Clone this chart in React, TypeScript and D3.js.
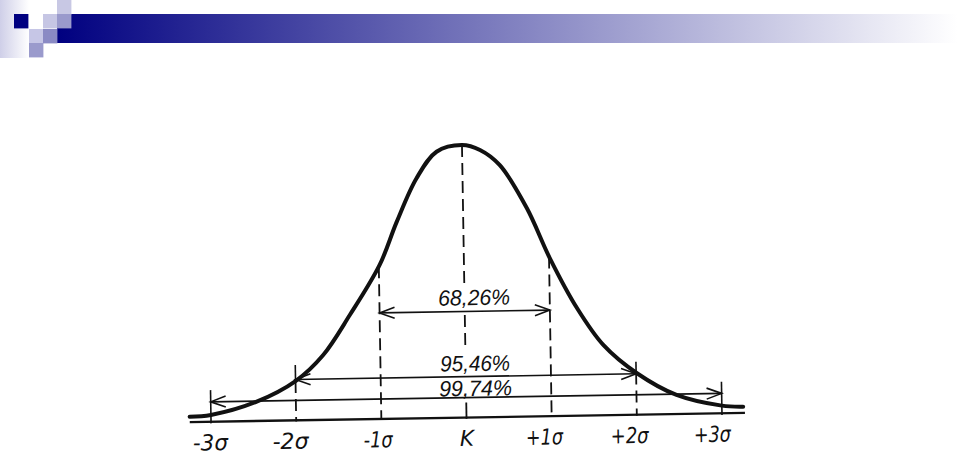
import React from "react";
import * as d3 from "d3";

// Positions along the axis, in units of sigma
const sigmaTicks = [-3, -2, -1, 0, 1, 2, 3];
const tickLabels = ["-3σ", "-2σ", "-1σ", "K", "+1σ", "+2σ", "+3σ"];

// Curve: sigma position and relative height (peak = 1)
const curveSigma = [-3.25, -3.0, -2.46, -2.0, -1.67, -1.35, -0.99, -0.78, -0.54, -0.3, 0, 0.21, 0.44, 0.75, 1.01, 1.32, 1.62, 2.01, 2.47, 3.0, 3.25];
const curveHeight = [0.02, 0.025, 0.071, 0.144, 0.238, 0.383, 0.565, 0.723, 0.881, 0.977, 1.0, 0.981, 0.924, 0.764, 0.579, 0.394, 0.258, 0.152, 0.07, 0.028, 0.023];

// Interval arrows
const intervalFrom = [-1, -2, -3];
const intervalTo = [1, 2, 3];
const intervalLabels = ["68,26%", "95,46%", "99,74%"];
const intervalLevels = [0.389, 0.15, 0.073];

// Heights where the short solid ticks above the curve begin
const tickTops = [0.116, 0.203, null, null, null, 0.194, 0.116];

export default function App() {
  const W = 960, H = 456;
  const baseY = 417.5;
  const x = d3.scaleLinear().domain([-3, 3]).range([211, 722]);
  const y = d3.scaleLinear().domain([0, 1]).range([baseY, baseY - 272.5]);
  const hAt = d3.scaleLinear().domain(curveSigma).range(curveHeight);
  const pts = curveSigma.map((s, i) => [s, curveHeight[i]] as [number, number]);
  const line = d3
    .line<[number, number]>()
    .x((d) => x(d[0]))
    .y((d) => y(d[1]))
    .curve(d3.curveCatmullRom.alpha(0.5));

  const ink = "#111";
  const dash = "12 6";
  const labelOffsets = [6.3, 5.5, 1.6];
  const labelWidths = [72, 70, 73];
  const tickWidths = [35, 36, 29, 14, 37, 38, 37];
  const tickShift = [-1, -6, -3.5, 0, -7.5, -7.5, -10];

  const arrowHead = (tx: number, ty: number, dir: number) => {
    const len = 15, hw = 5.5;
    return `M${tx + dir * len},${ty - hw} L${tx},${ty} L${tx + dir * len},${ty + hw}`;
  };

  const squares: [number, number, string][] = [
    [14, 14, "#000080"],
    [43, 14, "#c6c6e4"],
    [57, 0, "#c8c8e4"],
    [57, 14, "#9a9acc"],
    [29, 29, "#c6c6e6"],
    [43, 29, "#8a8ac4"],
    [29, 43, "#9a9acc"],
  ];

  return (
    <svg
      width={W}
      height={H}
      viewBox={`0 0 ${W} ${H}`}
      style={{ position: "absolute", left: 0, top: 0, background: "#fff" }}
    >
      <defs>
        <linearGradient id="barGrad" x1="0" x2="1" y1="0" y2="0">
          <stop offset="0" stopColor="#000080" />
          <stop offset="1" stopColor="#ffffff" />
        </linearGradient>
        <linearGradient id="stripGrad" x1="0" x2="1" y1="0" y2="0">
          <stop offset="0" stopColor="#cfcfe8" />
          <stop offset="1" stopColor="#ffffff" />
        </linearGradient>
      </defs>
      <rect x={0} y={0} width={W} height={H} fill="#fff" />
      {/* header */}
      <rect x={0} y={0} width={29} height={58} fill="url(#stripGrad)" />
      <rect x={57} y={14} width={900} height={29} fill="url(#barGrad)" />
      {squares.map(([sx, sy, c], i) => (
        <rect key={i} x={sx} y={sy} width={14.4} height={14.4} fill={c} />
      ))}

      <g transform={`rotate(-0.95, ${x(0)}, ${baseY})`}>
        {/* baseline */}
        <line x1={x(-3.25)} x2={x(3.27)} y1={y(0)} y2={y(0)} stroke={ink} strokeWidth={2.3} />

        {/* verticals */}
        {sigmaTicks.map((s, i) => {
          const px = x(s);
          const top = tickTops[i];
          const hc = hAt(s);
          if (s === 0) {
            return (
              <g key={i}>
                <line x1={px} x2={px} y1={y(1)} y2={y(0.494)} stroke={ink} strokeWidth={1.8} strokeDasharray={dash} />
                <line x1={px} x2={px} y1={y(0.376)} y2={y(0.255)} stroke={ink} strokeWidth={1.8} strokeDasharray={dash} />
                <line x1={px} x2={px} y1={y(0.055)} y2={y(-0.005)} stroke={ink} strokeWidth={1.8} />
              </g>
            );
          }
          if (Math.abs(s) === 3) {
            return <line key={i} x1={px} x2={px} y1={y(top as number)} y2={y(-0.006)} stroke={ink} strokeWidth={1.6} />;
          }
          return (
            <g key={i}>
              {top != null && (
                <line x1={px} x2={px} y1={y(top)} y2={y(hc)} stroke={ink} strokeWidth={1.6} />
              )}
              <line x1={px} x2={px} y1={y(hc)} y2={y(-0.004)} stroke={ink} strokeWidth={1.8} strokeDasharray={dash} />
            </g>
          );
        })}

        {/* interval arrows */}
        {intervalLevels.map((lv, i) => {
          const x1 = x(intervalFrom[i]);
          const x2 = x(intervalTo[i]);
          const py = y(lv);
          return (
            <g key={i} fill="none" stroke={ink} strokeWidth={1.6}>
              <line x1={x1} x2={x2} y1={py} y2={py} />
              <path d={arrowHead(x1, py, 1)} />
              <path d={arrowHead(x2, py, -1)} />
            </g>
          );
        })}
        {intervalLabels.map((t, i) => (
          <text
            key={i}
            x={x(0) + 9.5}
            y={y(intervalLevels[i]) - labelOffsets[i]}
            textAnchor="middle"
            fontFamily="'Liberation Sans', sans-serif"
            fontStyle="italic"
            fontSize={22}
            textLength={labelWidths[i]}
            lengthAdjust="spacingAndGlyphs"
            fill={ink}
          >
            {t}
          </text>
        ))}

        {/* curve */}
        <path d={line(pts) || ""} fill="none" stroke={ink} strokeWidth={4} strokeLinecap="round" />

        {/* tick labels */}
        {sigmaTicks.map((s, i) => (
          <text
            key={i}
            x={x(s) + tickShift[i]}
            y={446}
            textAnchor="middle"
            fontFamily="'DejaVu Sans', sans-serif"
            fontStyle="italic"
            fontSize={22}
            textLength={tickWidths[i]}
            lengthAdjust="spacingAndGlyphs"
            fill={ink}
          >
            {tickLabels[i]}
          </text>
        ))}
      </g>
    </svg>
  );
}
